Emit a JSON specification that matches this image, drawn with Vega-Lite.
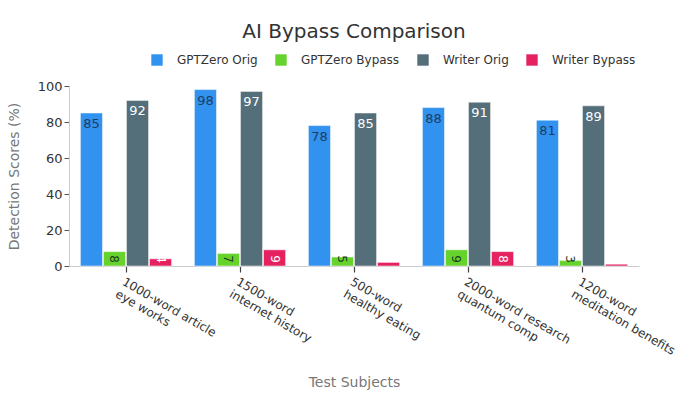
{
  "$schema": "https://vega.github.io/schema/vega-lite/v6.json",
  "autosize": {"type": "none"},
  "padding": {"left": 69, "top": 86, "right": 61, "bottom": 134},
  "width": 570,
  "height": 180,
  "background": "white",
  "title": {
    "text": "AI Bypass Comparison",
    "fontSize": 20,
    "fontWeight": "normal",
    "font": "DejaVu Sans",
    "color": "#333333",
    "anchor": "middle",
    "offset": 12
  },
  "config": {
    "font": "DejaVu Sans",
    "view": {"stroke": null},
    "axis": {"labelFont": "DejaVu Sans", "titleFont": "DejaVu Sans"},
    "axisX": {"ticks": true, "tickSize": 6, "tickColor": "#444444", "tickWidth": 1.2}
  },
  "data": {
    "values": [
      {"subject": "1000-word article|eye works", "series": "GPTZero Orig", "value": 85},
      {"subject": "1000-word article|eye works", "series": "GPTZero Bypass", "value": 8},
      {"subject": "1000-word article|eye works", "series": "Writer Orig", "value": 92},
      {"subject": "1000-word article|eye works", "series": "Writer Bypass", "value": 4},
      {"subject": "1500-word|internet history", "series": "GPTZero Orig", "value": 98},
      {"subject": "1500-word|internet history", "series": "GPTZero Bypass", "value": 7},
      {"subject": "1500-word|internet history", "series": "Writer Orig", "value": 97},
      {"subject": "1500-word|internet history", "series": "Writer Bypass", "value": 9},
      {"subject": "500-word|healthy eating", "series": "GPTZero Orig", "value": 78},
      {"subject": "500-word|healthy eating", "series": "GPTZero Bypass", "value": 5},
      {"subject": "500-word|healthy eating", "series": "Writer Orig", "value": 85},
      {"subject": "500-word|healthy eating", "series": "Writer Bypass", "value": 2},
      {"subject": "2000-word research|quantum comp", "series": "GPTZero Orig", "value": 88},
      {"subject": "2000-word research|quantum comp", "series": "GPTZero Bypass", "value": 9},
      {"subject": "2000-word research|quantum comp", "series": "Writer Orig", "value": 91},
      {"subject": "2000-word research|quantum comp", "series": "Writer Bypass", "value": 8},
      {"subject": "1200-word|meditation benefits", "series": "GPTZero Orig", "value": 81},
      {"subject": "1200-word|meditation benefits", "series": "GPTZero Bypass", "value": 3},
      {"subject": "1200-word|meditation benefits", "series": "Writer Orig", "value": 89},
      {"subject": "1200-word|meditation benefits", "series": "Writer Bypass", "value": 1}
    ]
  },
  "encoding": {
    "x": {
      "field": "subject",
      "type": "nominal",
      "sort": null,
      "title": "Test Subjects",
      "scale": {"paddingInner": 0.2, "paddingOuter": 0.1},
      "axis": {
        "labelExpr": "split(datum.label, '|')",
        "labelAngle": 30,
        "labelAlign": "left",
        "labelBaseline": "top",
        "labelFontSize": 12,
        "labelColor": "#333333",
        "labelLimit": 300,
        "labelPadding": 4,
        "domainColor": "#cccccc",
        "titleFontSize": 14,
        "titleFontWeight": "normal",
        "titleColor": "#777777",
        "titlePadding": 18
      }
    },
    "xOffset": {
      "field": "series",
      "type": "nominal",
      "sort": ["GPTZero Orig", "GPTZero Bypass", "Writer Orig", "Writer Bypass"],
      "scale": {"paddingInner": 0.04, "paddingOuter": 0}
    },
    "y": {
      "field": "value",
      "type": "quantitative",
      "title": "Detection Scores (%)",
      "scale": {"domain": [0, 100]},
      "axis": {
        "values": [0, 20, 40, 60, 80, 100],
        "grid": false,
        "labelFontSize": 13,
        "labelColor": "#333333",
        "domainColor": "#cccccc",
        "tickColor": "#555555",
        "tickSize": 5,
        "titleFontSize": 14,
        "titleFontWeight": "normal",
        "titleColor": "#777777",
        "titlePadding": 16
      }
    }
  },
  "layer": [
    {
      "mark": {"type": "bar", "stroke": "#ffffff", "strokeWidth": 1, "strokeOpacity": 0.5},
      "encoding": {
        "color": {
          "field": "series",
          "type": "nominal",
          "sort": ["GPTZero Orig", "GPTZero Bypass", "Writer Orig", "Writer Bypass"],
          "scale": {
            "domain": ["GPTZero Orig", "GPTZero Bypass", "Writer Orig", "Writer Bypass"],
            "range": ["#3192f0", "#66d22c", "#546e7a", "#e5225f"]
          },
          "legend": {
            "title": null,
            "orient": "none",
            "legendX": 82,
            "legendY": -32,
            "direction": "horizontal",
            "symbolType": "square",
            "symbolSize": 130,
            "symbolStrokeWidth": 0,
            "labelFontSize": 12,
            "labelColor": "#333333",
            "labelOffset": 14,
            "columnPadding": 17
          }
        }
      }
    },
    {
      "transform": [{"filter": "indexof(datum.series, 'Orig') >= 0"}],
      "mark": {"type": "text", "baseline": "top", "align": "center", "dy": 5, "fontSize": 13},
      "encoding": {
        "text": {"field": "value", "type": "quantitative"},
        "color": {
          "condition": {"test": "datum.series === 'Writer Orig'", "value": "#ffffff"},
          "value": "#1f3d63"
        }
      }
    },
    {
      "transform": [{"filter": "indexof(datum.series, 'Bypass') >= 0"}],
      "mark": {"type": "text", "baseline": "middle", "align": "center", "angle": 90, "dx": -7, "fontSize": 12},
      "encoding": {
        "y": {"datum": 0, "type": "quantitative"},
        "text": {"field": "value", "type": "quantitative"},
        "color": {
          "condition": {"test": "datum.series === 'Writer Bypass'", "value": "#ffffff"},
          "value": "#1f3d20"
        }
      }
    }
  ]
}
